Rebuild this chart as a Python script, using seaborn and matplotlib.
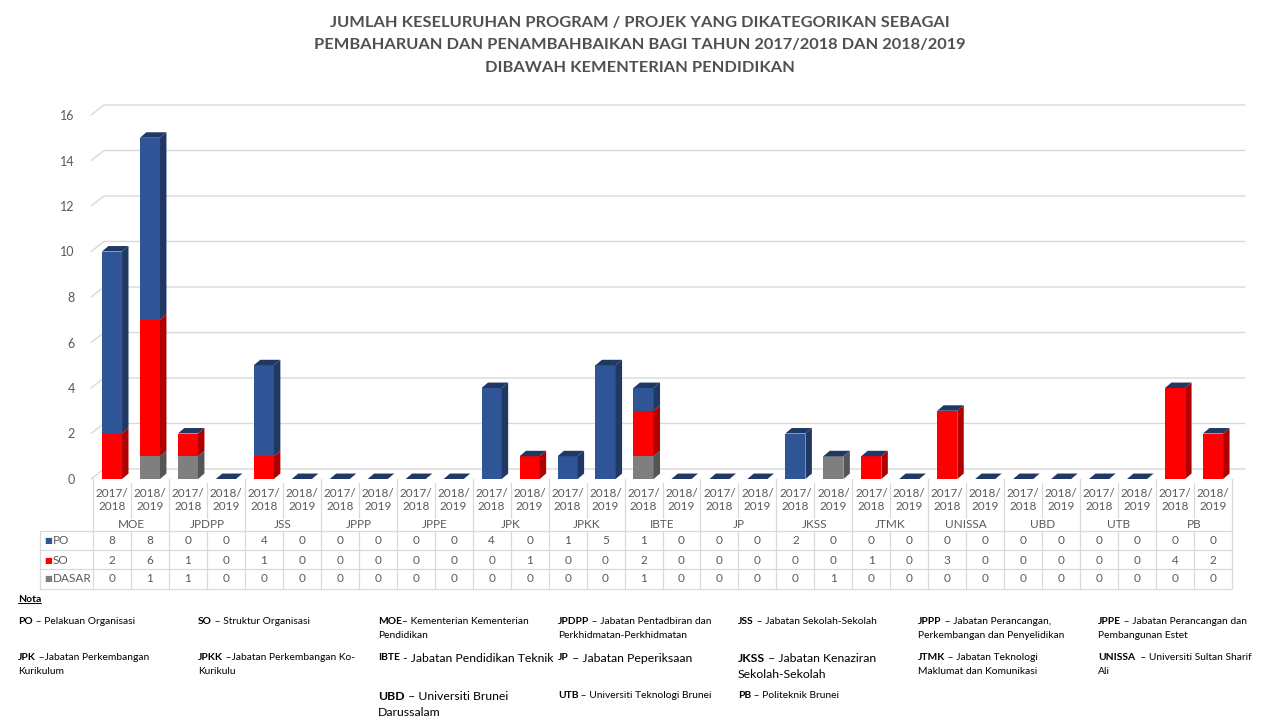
import matplotlib
matplotlib.use("Agg")
import matplotlib.pyplot as plt
import matplotlib.transforms as mtransforms
from matplotlib.patches import Polygon
from matplotlib.lines import Line2D
import numpy as np
import pandas as pd
import seaborn as sns

sns.set_style("white")
plt.rcParams["font.family"] = ["Lato", "DejaVu Sans"]

# ---- data -------------------------------------------------------------
units = ["MOE", "JPDPP", "JSS", "JPPP", "JPPE", "JPK", "JPKK", "IBTE",
         "JP", "JKSS", "JTMK", "UNISSA", "UBD", "UTB", "PB"]
years = ["2017/\n2018", "2018/\n2019"]
series = ["PO", "SO", "DASAR"]

# two values per unit: 2017/2018, 2018/2019
po = [8, 8,  0, 0,  4, 0,  0, 0,  0, 0,  4, 0,  1, 5,  1, 0,
      0, 0,  2, 0,  0, 0,  0, 0,  0, 0,  0, 0,  0, 0]
so = [2, 6,  1, 0,  1, 0,  0, 0,  0, 0,  0, 1,  0, 0,  2, 0,
      0, 0,  0, 0,  1, 0,  3, 0,  0, 0,  0, 0,  4, 2]
dasar = [0, 1,  1, 0,  0, 0,  0, 0,  0, 0,  0, 0,  0, 0,  1, 0,
         0, 0,  0, 1,  0, 0,  0, 0,  0, 0,  0, 0,  0, 0]

title_lines = [
    "JUMLAH KESELURUHAN PROGRAM / PROJEK YANG DIKATEGORIKAN SEBAGAI",
    "PEMBAHARUAN DAN PENAMBAHBAIKAN BAGI TAHUN 2017/2018 DAN 2018/2019",
    "DIBAWAH KEMENTERIAN PENDIDIKAN",
]

# (abbreviation, rest of first line, second line, column, row, big font)
notes = [
    ("PO", " \u2013 Pelakuan Organisasi", "", 0, 0, False),
    ("SO", " \u2013 Struktur Organisasi", "", 1, 0, False),
    ("MOE", "\u2013 Kementerian Kementerian", "Pendidikan", 2, 0, False),
    ("JPDPP", " \u2013 Jabatan Pentadbiran dan", "Perkhidmatan-Perkhidmatan", 3, 0, False),
    ("JSS", " \u2013 Jabatan Sekolah-Sekolah", "", 4, 0, False),
    ("JPPP", " \u2013 Jabatan Perancangan,", "Perkembangan dan Penyelidikan", 5, 0, False),
    ("JPPE", " \u2013 Jabatan Perancangan dan", "Pembangunan Estet", 6, 0, False),
    ("JPK", " \u2013Jabatan Perkembangan", "Kurikulum", 0, 1, False),
    ("JPKK", " \u2013Jabatan Perkembangan Ko-", "Kurikulu", 1, 1, False),
    ("IBTE", " - Jabatan Pendidikan Teknik", "", 2, 1, True),
    ("JP", " \u2013 Jabatan Peperiksaan", "", 3, 1, True),
    ("JKSS", " \u2013 Jabatan Kenaziran", "Sekolah-Sekolah", 4, 1, True),
    ("JTMK", " \u2013 Jabatan Teknologi", "Maklumat dan Komunikasi", 5, 1, False),
    ("UNISSA", "  \u2013 Universiti Sultan Sharif", "Ali", 6, 1, False),
    ("UBD", " \u2013 Universiti Brunei", "Darussalam", 2, 2, True),
    ("UTB", " \u2013 Universiti Teknologi Brunei", "", 3, 2, False),
    ("PB", " \u2013 Politeknik Brunei", "", 4, 2, False),
]

# ---- styling ------------------------------------------------------------
front = {"PO": "#2F5597", "SO": "#FF0000", "DASAR": "#7F7F7F"}
side = {"PO": "#1F3864", "SO": "#B00000", "DASAR": "#555555"}
top_col = "#203864"
grid_col = "#D9D9D9"
txt_col = "#595959"

W_PX, H_PX = 1280, 720
BAR_W = 0.53
BDX, BDY = 0.17, 0.24     # bar depth in data units
WDX, WDY = 0.34, 0.44     # wall depth in data units

labels = [f"{u} {y}" for u in units for y in years]
df = pd.DataFrame({"col": labels, "PO": po, "SO": so, "DASAR": dasar})
df["total"] = df["PO"] + df["SO"] + df["DASAR"]
df["so_top"] = df["SO"] + df["DASAR"]
n = len(df)


def fy(px):
    return 1 - px / H_PX


def fx(px):
    return px / W_PX


fig = plt.figure(figsize=(12.8, 7.2), dpi=100)
ax = fig.add_axes([fx(93), fy(479), fx(1232 - 93), (479 - 115) / H_PX])

# back wall gridlines
for v in range(0, 17, 2):
    ax.plot([-0.55, -0.55 + WDX, n - 0.5 + WDX], [v, v + WDY, v + WDY],
            color=grid_col, lw=1, zorder=0, clip_on=False)

# stacked bars as cumulative layers
sns.barplot(data=df, x="col", y="total", color=front["PO"], saturation=1,
            width=BAR_W, errorbar=None, linewidth=0, ax=ax, zorder=3)
sns.barplot(data=df, x="col", y="so_top", color=front["SO"], saturation=1,
            width=BAR_W, errorbar=None, linewidth=0, ax=ax, zorder=3)
sns.barplot(data=df, x="col", y="DASAR", color=front["DASAR"], saturation=1,
            width=BAR_W, errorbar=None, linewidth=0, ax=ax, zorder=3)

# 3d side and top faces
for i, p in enumerate(ax.containers[0]):
    x1 = p.get_x() + p.get_width()
    x0 = p.get_x()
    lo = 0
    for s in ["DASAR", "SO", "PO"]:
        hi = lo + df.loc[i, s]
        if hi > lo:
            ax.add_patch(Polygon([(x1, lo), (x1, hi), (x1 + BDX, hi + BDY),
                                  (x1 + BDX, lo + BDY)], closed=True,
                                 fc=side[s], ec="none", zorder=3, clip_on=False))
        lo = hi
    ax.add_patch(Polygon([(x0, lo), (x1, lo), (x1 + BDX, lo + BDY),
                          (x0 + BDX, lo + BDY)], closed=True,
                         fc=top_col, ec="none", zorder=3, clip_on=False))

ax.set_xlim(-0.5, n - 0.5)
ax.set_ylim(0, 16)
ax.set_yticks(np.arange(0, 17, 2))
ax.set_xticks([])
ax.set_xlabel("")
ax.set_ylabel("")
ax.tick_params(axis="y", length=0, pad=13, labelsize=9, labelcolor=txt_col)
sns.despine(ax=ax, left=True, bottom=True)

# ---- data table -----------------------------------------------------------
tr = mtransforms.blended_transform_factory(ax.transData, fig.transFigure)
line_kw = dict(color=grid_col, lw=0.9, clip_on=False)

for i in range(n):
    ax.text(i, fy(500), years[i % 2], transform=tr, ha="center", va="center",
            fontsize=8.5, color=txt_col, linespacing=1.25)
for g, u in enumerate(units):
    ax.text(2 * g + 0.5, fy(524), u, transform=tr, ha="center", va="center",
            fontsize=8.5, color=txt_col)

row_y = [541, 560, 579]
for r, s in enumerate(series):
    for i, v in enumerate(df[s]):
        ax.text(i, fy(row_y[r]), str(v), transform=tr, ha="center",
                va="center", fontsize=8.5, color=txt_col)
    fig.text(fx(44), fy(row_y[r]), "\u25A0", ha="left", va="center",
             fontsize=6, color=front[s], family="DejaVu Sans")
    fig.text(fx(53), fy(row_y[r]), s, ha="left", va="center",
             fontsize=8.5, color=txt_col)

for k in range(n + 1):
    xb = k - 0.5
    if k % 2 == 0:
        ax.plot([xb, xb], [fy(479), fy(589)], transform=tr, **line_kw)
    else:
        ax.plot([xb, xb], [fy(483), fy(518)], transform=tr, **line_kw)
        ax.plot([xb, xb], [fy(531), fy(589)], transform=tr, **line_kw)

for yy in [531, 550, 569, 589]:
    fig.add_artist(Line2D([fx(40), fx(1232)], [fy(yy), fy(yy)], **line_kw))
fig.add_artist(Line2D([fx(40), fx(40)], [fy(531), fy(589)], **line_kw))

# ---- title ----------------------------------------------------------------
for k, t in enumerate(title_lines):
    fig.text(0.5, fy(23 + 22.5 * k), t, ha="center", va="center",
             fontsize=11.8, fontweight="bold", color="#505050")

# ---- notes ------------------------------------------------------------------
nota = fig.text(fx(18), fy(599), "Nota", ha="left", va="center",
                fontsize=7.5, fontweight="bold", color="black")
fig.canvas.draw()
bb = nota.get_window_extent().transformed(fig.transFigure.inverted())
fig.add_artist(Line2D([bb.x0, bb.x1], [bb.y0 + 0.001, bb.y0 + 0.001],
                      color="black", lw=0.7))

row_base = [621, 658, 696]
for abbr, rest, second, c, r, big in notes:
    size = 8.8 if big else 7.4
    x = fx(18 + 180 * c)
    y = fy(row_base[r])
    abbr_size = size if abbr in ("JKSS", "UBD") else 7.4
    t = fig.text(x, y, abbr, ha="left", va="center", fontsize=abbr_size,
                 fontweight="bold", color="black")
    ax.annotate(rest, xy=(1, 0.5), xycoords=t, ha="left", va="center",
                fontsize=size, color="black", annotation_clip=False)
    if second:
        fig.text(x, fy(row_base[r] + (16 if big else 14)), second,
                 ha="left", va="center", fontsize=size, color="black")

fig.savefig("out.png", dpi=100, facecolor="white")
